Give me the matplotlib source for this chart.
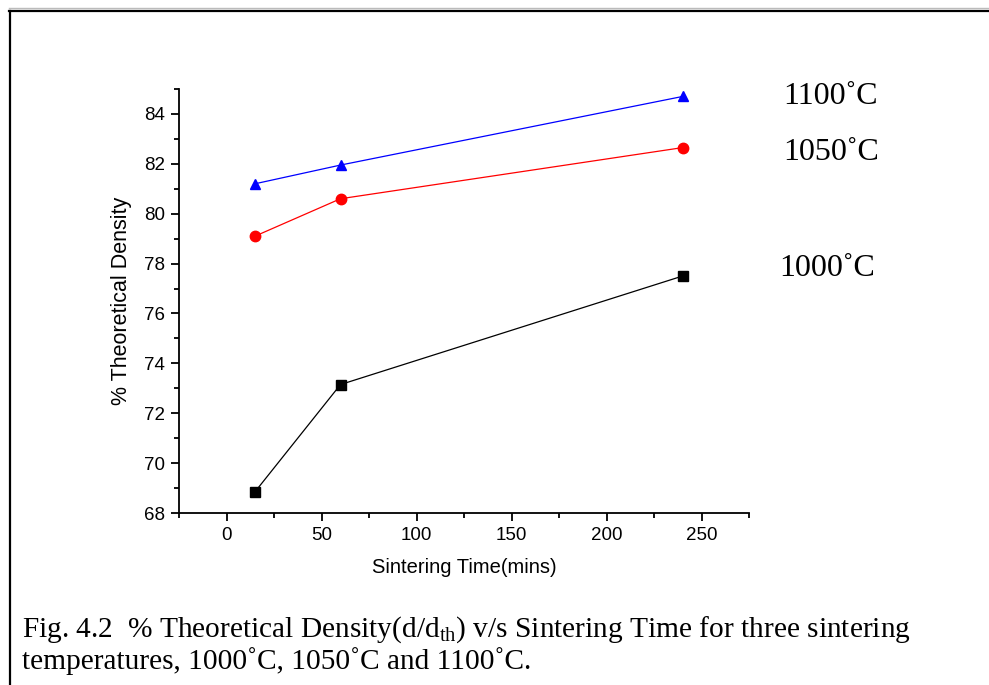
import matplotlib
matplotlib.use("Agg")
import matplotlib.pyplot as plt
from matplotlib.lines import Line2D
from matplotlib.ticker import MultipleLocator

# sintering time (mins)
times = [15, 60, 240]
# % theoretical density at each temperature
dens_1000 = [68.85, 73.15, 77.5]
dens_1050 = [79.1, 80.6, 82.65]
dens_1100 = [81.2, 81.95, 84.7]

labels = ["1000˚C", "1050˚C", "1100˚C"]
colors = ["black", "red", "blue"]
markers = ["s", "o", "^"]

plt.rcParams["mathtext.fontset"] = "custom"
plt.rcParams["mathtext.rm"] = "Liberation Serif"
plt.rcParams["mathtext.it"] = "Liberation Serif:italic"

def main():
    fig = plt.figure(figsize=(9.89, 6.85), dpi=100)
    ax = fig.add_axes([179 / 989, 1 - 513 / 685, 570 / 989, 424 / 685])

    series = [dens_1000, dens_1050, dens_1100]
    for vals, c, m in zip(series, colors, markers):
        ax.plot(times, vals, color=c, marker=m, lw=0.9, ms=7.5 if m != "s" else 6.5,
                markeredgecolor=c)

    ax.set_xlim(-25, 275)
    ax.set_ylim(68, 85)
    ax.xaxis.set_major_locator(MultipleLocator(50))
    ax.xaxis.set_minor_locator(MultipleLocator(25))
    ax.yaxis.set_major_locator(MultipleLocator(2))
    ax.yaxis.set_minor_locator(MultipleLocator(1))
    ax.spines["top"].set_visible(False)
    ax.spines["right"].set_visible(False)
    for s in ("left", "bottom"):
        ax.spines[s].set_linewidth(1.3)
    ax.tick_params(which="major", direction="out", length=6, width=1.3,
                   labelsize=13.5, pad=4)
    ax.tick_params(which="minor", direction="out", length=3.5, width=1.3)
    for t in ax.get_xticklabels() + ax.get_yticklabels():
        t.set_family("Liberation Sans")

    ax.set_xlabel("Sintering Time(mins)", family="Liberation Sans", fontsize=14.5, labelpad=10)
    ax.set_ylabel("% Theoretical Density", family="Liberation Sans", fontsize=15.5, labelpad=9)

    # temperature labels to the right of the curves
    label_pos = {"1000˚C": (779, 269), "1050˚C": (783, 153), "1100˚C": (783, 97)}
    for lab in labels:
        px, py = label_pos[lab]
        fig.text(px / 989, 1 - py / 685, lab, family="Liberation Serif",
                 fontsize=23, va="center", ha="left")

    # caption
    fig.text(22 / 989, 1 - 630 / 685,
             "Fig. 4.2  % Theoretical Density(d/d$_\\mathrm{th}$) v/s Sintering Time for three sintering",
             family="Liberation Serif", fontsize=21.2, va="center", ha="left")
    fig.text(22 / 989, 1 - 661 / 685,
             "temperatures, 1000˚C, 1050˚C and 1100˚C.",
             family="Liberation Serif", fontsize=21.2, va="center", ha="left")

    # frame around the figure
    fig.add_artist(Line2D([9 / 989, 1.0], [1 - 8 / 685] * 2, color="#bbbbbb", lw=1))
    fig.add_artist(Line2D([9 / 989, 1.0], [1 - 10.5 / 685] * 2, color="black", lw=1.6))
    fig.add_artist(Line2D([9.5 / 989] * 2, [0.0, 1 - 10.5 / 685], color="black", lw=1.6))

    fig.savefig("out.png", dpi=100)

if __name__ == "__main__":
    main()
